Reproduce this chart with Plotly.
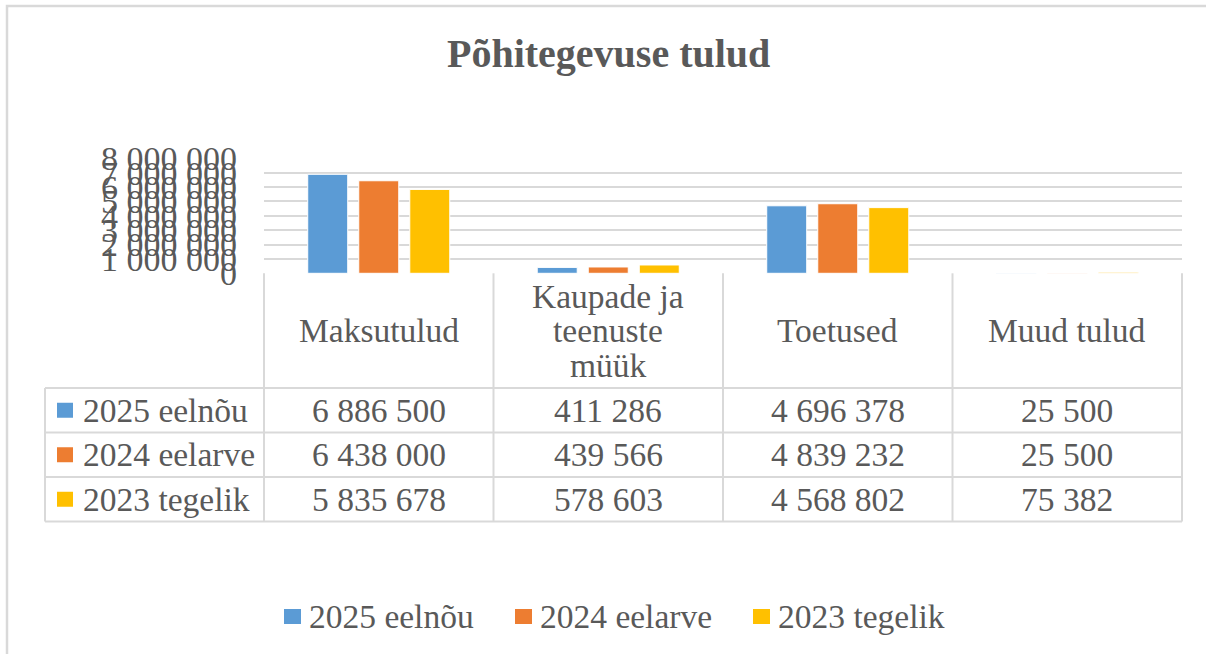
import textwrap
import plotly.graph_objects as go

# ---------------- data ----------------
categories = ["Maksutulud", "Kaupade ja teenuste müük", "Toetused", "Muud tulud"]
series_names = ["2025 eelnõu", "2024 eelarve", "2023 tegelik"]
values_2025 = [6886500, 411286, 4696378, 25500]
values_2024 = [6438000, 439566, 4839232, 25500]
values_2023 = [5835678, 578603, 4568802, 75382]
series_colors = ["#5B9BD5", "#ED7D31", "#FFC000"]
y_tick_values = [0, 1000000, 2000000, 3000000, 4000000, 5000000, 6000000, 7000000, 8000000]
chart_title = "Põhitegevuse tulud"

series_values = [values_2025, values_2024, values_2023]

# ---------------- layout geometry (pixels) ----------------
W, H = 1206, 654
FONT = "Liberation Serif"
TXT = "#595959"
LINE = "#d9d9d9"
FS = 33.5
plot_l, plot_r = 264, 1182
plot_t, plot_b = 158.3, 273.3
header_b = 388
row_h = 44.5
legcol_l = 45


def px(x):
    return x / W


def py(y):
    return 1 - y / H


def fmt(v):
    return f"{v:,}".replace(",", " ")


fig = go.Figure()
for name, vals, col in zip(series_names, series_values, series_colors):
    fig.add_trace(go.Bar(
        x=categories, y=vals, name=name,
        marker=dict(color=col, line=dict(color="white", width=1)),
        showlegend=False, hoverinfo="x+y+name",
    ))

shapes = []
annotations = []

# outer chart border
shapes.append(dict(type="rect", xref="paper", yref="paper",
                   x0=px(7), x1=px(1230), y0=py(6), y1=py(700),
                   line=dict(color=LINE, width=2.5), layer="below"))

# title
annotations.append(dict(text="<b>" + chart_title + "</b>", xref="paper", yref="paper",
                        x=px(608), y=py(53), xanchor="center", yanchor="middle",
                        showarrow=False, font=dict(family=FONT, size=40, color=TXT)))

# data table lines
n_rows = len(series_names)
col_edges = [plot_l + i * (plot_r - plot_l) / len(categories) for i in range(len(categories) + 1)]
table_bottom = header_b + n_rows * row_h
for xe in col_edges:
    shapes.append(dict(type="line", xref="paper", yref="paper",
                       x0=px(xe), x1=px(xe), y0=py(plot_b), y1=py(table_bottom),
                       line=dict(color=LINE, width=2)))
shapes.append(dict(type="line", xref="paper", yref="paper",
                   x0=px(legcol_l), x1=px(legcol_l), y0=py(header_b), y1=py(table_bottom),
                   line=dict(color=LINE, width=2)))
for r in range(n_rows + 1):
    yy = header_b + r * row_h
    shapes.append(dict(type="line", xref="paper", yref="paper",
                       x0=px(legcol_l), x1=px(plot_r), y0=py(yy), y1=py(yy),
                       line=dict(color=LINE, width=2)))

# header labels
header_c = (plot_b + header_b) / 2
line_sp = 34.5
for i, cat in enumerate(categories):
    lines = textwrap.wrap(cat, 10)
    cx = (col_edges[i] + col_edges[i + 1]) / 2
    n = len(lines)
    for k, ln in enumerate(lines):
        yy = header_c + (k - (n - 1) / 2) * line_sp
        annotations.append(dict(text=ln, xref="paper", yref="paper", x=px(cx), y=py(yy),
                                xanchor="center", yanchor="middle", showarrow=False,
                                font=dict(family=FONT, size=FS, color=TXT)))

# rows
for r, (name, vals, col) in enumerate(zip(series_names, series_values, series_colors)):
    cy = header_b + (r + 0.5) * row_h
    shapes.append(dict(type="rect", xref="paper", yref="paper",
                       x0=px(57), x1=px(73), y0=py(cy - 7.5), y1=py(cy + 7.5),
                       fillcolor=col, line=dict(width=0)))
    annotations.append(dict(text=name, xref="paper", yref="paper", x=px(81), y=py(cy),
                            xanchor="left", yanchor="middle", showarrow=False,
                            font=dict(family=FONT, size=FS, color=TXT)))
    for i, v in enumerate(vals):
        cx = (col_edges[i] + col_edges[i + 1]) / 2
        annotations.append(dict(text=fmt(v), xref="paper", yref="paper", x=px(cx), y=py(cy),
                                xanchor="center", yanchor="middle", showarrow=False,
                                font=dict(family=FONT, size=FS, color=TXT)))

# bottom legend
leg_y = 616.5
leg_sq_x = [284, 515, 753]
for name, col, sx in zip(series_names, series_colors, leg_sq_x):
    shapes.append(dict(type="rect", xref="paper", yref="paper",
                       x0=px(sx), x1=px(sx + 17), y0=py(leg_y - 7.5), y1=py(leg_y + 7.5),
                       fillcolor=col, line=dict(width=0)))
    annotations.append(dict(text=name, xref="paper", yref="paper", x=px(sx + 23), y=py(leg_y),
                            xanchor="left", yanchor="middle", showarrow=False,
                            font=dict(family=FONT, size=FS, color=TXT)))

fig.update_layout(
    width=W, height=H,
    margin=dict(l=0, r=0, t=0, b=0, pad=0),
    paper_bgcolor="white", plot_bgcolor="white",
    separators=", ",
    barmode="group", bargap=0.333, bargroupgap=0.216,
    showlegend=False,
    shapes=shapes, annotations=annotations,
    xaxis=dict(domain=[px(plot_l), px(plot_r)], showticklabels=False, showgrid=False,
               zeroline=False, showline=False, fixedrange=True, automargin=False),
    yaxis=dict(domain=[py(plot_b), py(plot_t)], range=[0, 8000000], tickvals=y_tick_values,
               tickformat=",d", showgrid=True, gridcolor=LINE, gridwidth=2,
               zeroline=False, showline=False, ticklabelstandoff=26, automargin=False,
               tickfont=dict(family=FONT, size=34, color=TXT), fixedrange=True),
)

fig.write_html("out.html", config={"displayModeBar": False},
               post_script="document.body.style.margin='0px';")
